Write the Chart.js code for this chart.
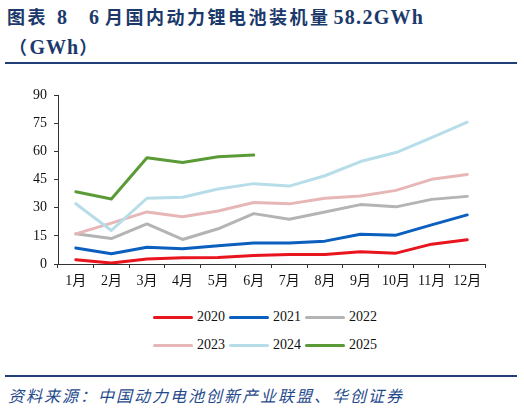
<!DOCTYPE html>
<html>
<head>
<meta charset="utf-8">
<script src="https://cdn.jsdelivr.net/npm/chart.js@4.4.1/dist/chart.umd.min.js"></script>
<style>
  body { margin: 0; background: #fff; }
  #wrap { position: relative; width: 524px; height: 412px; overflow: hidden; }
  .title {
    position: absolute; left: 7px; color: #1b3a6b;
    font-family: "Noto Sans CJK SC", sans-serif;
    font-weight: bold; font-size: 18px; letter-spacing: 2.5px; white-space: nowrap;
    line-height: 24px;
  }
  .title .lat { font-family: "Liberation Serif", serif; font-size: 20px; letter-spacing: 0; }
  .rule { position: absolute; left: 5px; width: 512px; height: 2px; background: #1f3f76; }
  #chartBox { position: absolute; left: 0; top: 80px; width: 524px; height: 215px; }
  #legend {
    position: absolute; left: 153px; top: 303px; width: 228px;
    display: flex; flex-wrap: wrap;
  }
  .item { width: 76px; height: 28px; display: flex; align-items: center; }
  .swatch { width: 40px; height: 3px; border-radius: 2px; margin-right: 4px; }
  .label { font-family: "Liberation Serif", serif; font-size: 14px; color: #111; }
  .source {
    position: absolute; left: 8px; top: 383px; color: #1f4a8c;
    font-family: "Noto Sans CJK SC", sans-serif; font-style: italic;
    font-size: 16px; letter-spacing: 2px; white-space: nowrap;
  }
</style>
</head>
<body>
<div id="wrap">
  <div class="title" style="top:4px;">图表<span class="lat" style="margin-left:9px;">8</span><span class="lat" style="margin-left:22px;margin-right:6px;">6</span>月国内动力锂电池装机量<span class="lat" style="margin-left:3px;letter-spacing:1.3px;">58.2GWh</span></div>
  <div class="title" style="top:34px;left:9px;">（<span class="lat" style="letter-spacing:1px;">GWh</span>）</div>
  <div class="rule" style="top:62px;"></div>
  <div id="chartBox"><canvas id="chartInstall" width="524" height="215"></canvas></div>
  <div id="legend"></div>
  <div class="rule" style="top:375px;"></div>
  <div class="source">资料来源：中国动力电池创新产业联盟、华创证券</div>
</div>

<script>
// Data (GWh)
const months = ['1月', '2月', '3月', '4月', '5月', '6月', '7月', '8月', '9月', '10月', '11月', '12月'];
const years = ['2020', '2021', '2022', '2023', '2024', '2025'];

const sales2020 = [2.3, 0.5, 2.7, 3.4, 3.5, 4.6, 5.1, 5.1, 6.6, 5.8, 10.6, 12.9];
const sales2021 = [8.5, 5.5, 8.9, 8.2, 9.7, 11.2, 11.2, 12.2, 15.9, 15.4, 20.9, 26.2];
const sales2022 = [16.1, 13.6, 21.4, 13.1, 18.8, 26.9, 23.9, 27.8, 31.7, 30.5, 34.5, 36.1];
const sales2023 = [16.1, 21.8, 27.8, 25.2, 28.3, 32.8, 32.1, 35.1, 36.3, 39.3, 45.2, 47.8];
const sales2024 = [32.2, 17.9, 35.1, 35.6, 40.0, 42.9, 41.6, 47.1, 54.7, 59.5, 67.5, 75.7];
const sales2025 = [38.6, 34.7, 56.7, 54.2, 57.2, 58.2];

const yTicks = [0, 15, 30, 45, 60, 75, 90];

const seriesValues = [sales2020, sales2021, sales2022, sales2023, sales2024, sales2025];
const lineColors = ['#e8141e', '#0a5fbf', '#b4b4b4', '#e7b7b8', '#b7dde9', '#5a9b37'];

const serif = "'Liberation Serif', 'Noto Sans CJK SC', serif";

document.addEventListener('DOMContentLoaded', function () {
  buildChart();
  buildLegend();
});

function buildChart() {
  const ctx = document.getElementById('chartInstall').getContext('2d');

  const datasets = years.map((year, i) => ({
    label: year,
    data: seriesValues[i],
    borderColor: lineColors[i],
    backgroundColor: lineColors[i],
    borderWidth: 3,
    pointRadius: 0,
    tension: 0,
    borderJoinStyle: 'round',
    borderCapStyle: 'round',
    order: years.length - i   // later years drawn on top
  }));

  new Chart(ctx, {
    type: 'line',
    data: { labels: months, datasets: datasets },
    options: {
      responsive: false,
      animation: false,
      layout: { padding: { left: 0, right: 39, top: 15, bottom: 0 } },
      plugins: {
        legend: { display: false },
        tooltip: { enabled: false }
      },
      scales: {
        x: {
          offset: true,
          grid: { offset: true, drawOnChartArea: false, tickLength: 4, color: '#333' },
          border: { color: '#333', width: 1 },
          ticks: { color: '#111', padding: 5, maxRotation: 0, font: { family: serif, size: 14 } },
          afterFit: function (scale) { scale.height = 31; }
        },
        y: {
          min: 0,
          max: 90,
          afterBuildTicks: function (scale) {
            scale.ticks = yTicks.map(v => ({ value: v }));
          },
          grid: { drawOnChartArea: false, tickLength: 4, color: '#333' },
          border: { color: '#333', width: 1 },
          ticks: { color: '#111', padding: 7, font: { family: serif, size: 14 } },
          afterFit: function (scale) { scale.width = 58; }
        }
      }
    }
  });
}

// Legend as html, two rows of three
function buildLegend() {
  const box = document.getElementById('legend');
  years.forEach((year, i) => {
    const item = document.createElement('div');
    item.className = 'item';
    const sw = document.createElement('span');
    sw.className = 'swatch';
    sw.style.background = lineColors[i];
    const txt = document.createElement('span');
    txt.className = 'label';
    txt.textContent = year;
    item.appendChild(sw);
    item.appendChild(txt);
    box.appendChild(item);
  });
}
</script>
</body>
</html>
